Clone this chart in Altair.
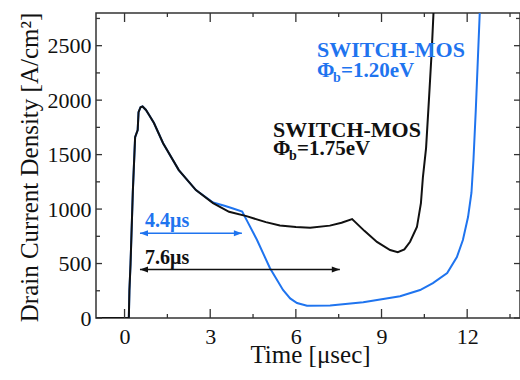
import altair as alt
import pandas as pd

# ---- data ----
black_t = [-1, 0.15, 0.17, 0.21, 0.29, 0.37, 0.46, 0.49, 0.56, 0.63, 0.75, 0.86, 1.03, 1.35, 1.9, 2.5,
           3.1, 3.66, 4.27, 4.95, 5.44, 6.0, 6.5, 7.19, 7.6, 7.97, 8.4, 8.84, 9.3, 9.57, 9.8, 10.0,
           10.24, 10.38, 10.45, 10.56, 10.66, 10.76, 10.82]
black_v = [0, 0, 250, 500, 1160, 1660, 1725, 1890, 1935, 1942, 1910, 1864, 1790, 1605, 1358, 1174,
           1055, 975, 935, 880, 850, 835, 828, 848, 875, 908, 800, 698, 624, 605, 630, 700,
           835, 1055, 1294, 1560, 2000, 2460, 2800]

blue_t = [-1, 0.15, 0.17, 0.21, 0.29, 0.37, 0.46, 0.49, 0.56, 0.63, 0.75, 0.86, 1.03, 1.35, 1.9, 2.5,
          3.1, 3.5, 3.8, 4.12, 4.3, 4.64, 5.09, 5.55, 5.8, 6.04, 6.39, 7.2, 8.36, 9.65, 10.35,
          10.8, 11.3, 11.64, 11.85, 12.03, 12.15, 12.22, 12.3, 12.37, 12.44]
blue_v = [0, 0, 250, 500, 1160, 1660, 1725, 1890, 1935, 1942, 1910, 1864, 1790, 1605, 1358, 1174,
          1060, 1030, 1005, 978, 887, 716, 459, 257, 180, 138, 112, 115, 145, 200, 257,
          321, 413, 560, 716, 927, 1150, 1450, 1900, 2350, 2800]

x_major = [0, 3, 6, 9, 12]
x_minor = [1.5, 4.5, 7.5, 10.5, 13.5]
y_major = [0, 500, 1000, 1500, 2000, 2500]
y_minor = [250, 750, 1250, 1750, 2250, 2750]

arrow_series = ["blue", "black"]
arrow_start = [0.54, 0.54]
arrow_end = [4.11, 7.54]
arrow_v = [778, 445]
arrow_text = ["4.4μs", "7.6μs"]
arrow_text_t = [0.72, 0.72]
arrow_text_v = [836, 500]

label_series = ["blue", "black"]
label_t = [6.74, 5.2]
label_v1 = [2397, 1662]
label_v2 = [2213, 1497]
label_name = ["SWITCH-MOS", "SWITCH-MOS"]
label_rest = ["=1.20eV", "=1.75eV"]

# ---- tables ----
curves = pd.concat([
    pd.DataFrame({"t": blue_t, "v": blue_v, "s": "blue", "i": range(len(blue_t))}),
    pd.DataFrame({"t": black_t, "v": black_v, "s": "black", "i": range(len(black_t))}),
])
arrows = pd.DataFrame({"s": arrow_series, "t": arrow_start, "t2": arrow_end, "v": arrow_v})
arrow_labels = pd.DataFrame({"s": arrow_series, "t": arrow_text_t, "v": arrow_text_v, "txt": arrow_text})
labels = pd.DataFrame({"s": label_series, "t": label_t, "v": label_v1, "v2": label_v2,
                       "name": label_name, "rest": label_rest})

W, H = 424, 305
FONT = "'Liberation Serif', 'Times New Roman', Times, serif"
xs = alt.Scale(domain=[-1, 13.85], nice=False, zero=False)
ys = alt.Scale(domain=[0, 2800], nice=False, zero=False)
col = alt.Color("s:N", scale=alt.Scale(domain=["blue", "black"], range=["#1f74ef", "#111111"]), legend=None)
AX = "#333333"

x_axis = alt.Axis(
    values=x_major, title="Time [μsec]", format="d", labelPadding=25, labelBaseline="alphabetic",
    labelFont=FONT, titleFont=FONT,
    titleX=214, titleY=44, titleBaseline="alphabetic", titleAlign="center")
y_axis = alt.Axis(
    values=y_major, title="Drain Current Density [A/cm²]", format="d", labelPadding=5,
    labelFont=FONT, titleFont=FONT,
    titleX=-59, titleY=154, titleAngle=270, titleBaseline="alphabetic", titleAlign="center")

X = lambda f: alt.X(f, scale=xs, axis=x_axis)
Y = lambda f: alt.Y(f, scale=ys, axis=y_axis)

base_curves = alt.Chart(curves).mark_line(strokeWidth=2, clip=True).encode(
    x=X("t:Q"), y=Y("v:Q"), color=col, order="i:Q")

def xtick(vals, y0, y1):
    return alt.Chart(pd.DataFrame({"t": vals})).mark_rule(color=AX, strokeWidth=1.3).encode(
        x=X("t:Q"), y=alt.value(y0), y2=alt.value(y1))

def ytick(vals, x0, x1):
    return alt.Chart(pd.DataFrame({"v": vals})).mark_rule(color=AX, strokeWidth=1.3).encode(
        y=Y("v:Q"), x=alt.value(x0), x2=alt.value(x1))

ticks = [
    xtick(x_major, H, H - 9), xtick(x_minor, H, H - 4),
    xtick(x_major, 0, 9), xtick(x_minor, 0, 4),
    ytick(y_major, 0, 6), ytick(y_minor, 0, 4),
    ytick(y_major, W, W - 6), ytick(y_minor, W, W - 4),
]

arrow_lines = alt.Chart(arrows).mark_rule(strokeWidth=1.5).encode(
    x=X("t:Q"), x2="t2:Q", y=Y("v:Q"), color=col)
head_left = alt.Chart(arrows).mark_point(shape="M0,0L2,-0.75L2,0.75Z", filled=True, size=64, opacity=1,
                                         strokeWidth=0).encode(x=X("t:Q"), y=Y("v:Q"), color=col)
head_right = alt.Chart(arrows).mark_point(shape="M0,0L-2,-0.75L-2,0.75Z", filled=True, size=64, opacity=1,
                                          strokeWidth=0).encode(x=X("t2:Q"), y=Y("v:Q"), color=col)

txt_kw = dict(font=FONT, fontWeight="bold", align="left", baseline="alphabetic")
arrow_txt = alt.Chart(arrow_labels).mark_text(fontSize=20, **txt_kw).encode(
    x=X("t:Q"), y=Y("v:Q"), text="txt:N", color=col)

name_txt = alt.Chart(labels).mark_text(fontSize=22, **txt_kw).encode(
    x=X("t:Q"), y=Y("v:Q"), text="name:N", color=col)
phi_txt = alt.Chart(labels).transform_calculate(phi="'Φ'").mark_text(fontSize=21, **txt_kw).encode(
    x=X("t:Q"), y=Y("v2:Q"), text="phi:N", color=col)
sub_txt = alt.Chart(labels).transform_calculate(sb="'b'").mark_text(fontSize=14, dx=16, dy=5, **txt_kw).encode(
    x=X("t:Q"), y=Y("v2:Q"), text="sb:N", color=col)
rest_txt = alt.Chart(labels).mark_text(fontSize=21, dx=24, **txt_kw).encode(
    x=X("t:Q"), y=Y("v2:Q"), text="rest:N", color=col)

chart = alt.layer(
    base_curves, *ticks, arrow_lines, head_left, head_right,
    arrow_txt, name_txt, phi_txt, sub_txt, rest_txt,
).properties(
    width=W, height=H,
    autosize=alt.AutoSizeParams(type="none"),
    padding={"left": 96, "top": 13, "right": 0, "bottom": 62},
    background="white",
).configure(
    font=FONT,
    style={"guide-label": {"font": FONT}, "guide-title": {"font": FONT}},
).configure_view(stroke=AX, strokeWidth=1.5).configure_axis(
    ticks=False, tickSize=0, domain=False, grid=False,
    labelFont=FONT, labelFontSize=22, labelColor="#111", labelFlush=False, labelOverlap=False,
    titleFont=FONT, titleFontSize=25, titleFontWeight="normal", titleColor="#111",
)

chart.save("out.html", embed_options={"renderer": "svg", "actions": False})
